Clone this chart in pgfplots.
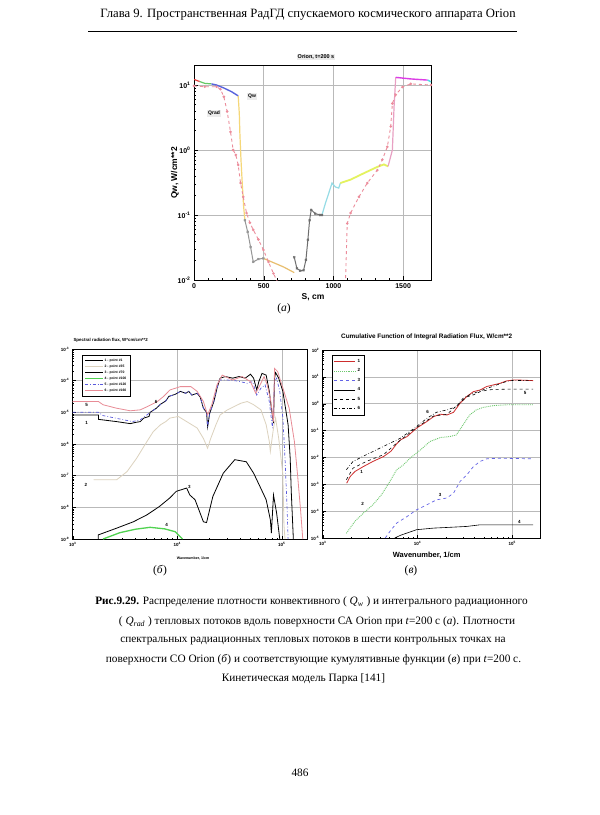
\documentclass[border=0pt]{standalone}
\usepackage{fontspec}
\setmainfont{Liberation Serif}
\newfontfamily\cf{Liberation Sans}
\usepackage{pgfplots}
\pgfplotsset{compat=1.18}
\definecolor{gridc}{RGB}{185,185,185}
\definecolor{qred}{RGB}{230,60,60}
\definecolor{qgreen}{RGB}{100,200,100}
\definecolor{qblue}{RGB}{90,100,220}
\definecolor{qyellow}{RGB}{245,215,120}
\definecolor{qgray}{RGB}{150,150,150}
\definecolor{qorange}{RGB}{232,190,110}
\definecolor{qdgray}{RGB}{110,110,110}
\definecolor{qcyan}{RGB}{150,220,230}
\definecolor{qyg}{RGB}{228,242,95}
\definecolor{qpink}{RGB}{232,160,195}
\definecolor{qmag}{RGB}{220,60,230}
\definecolor{qcyan2}{RGB}{80,220,230}
\definecolor{qrad}{RGB}{236,140,155}
\definecolor{bbeige}{RGB}{220,210,190}
\definecolor{bgreen}{RGB}{80,210,80}
\definecolor{bblue}{RGB}{90,90,220}
\definecolor{bpink}{RGB}{232,140,150}
\definecolor{cred}{RGB}{205,45,45}
\definecolor{cgreen}{RGB}{110,200,110}
\definecolor{cblue}{RGB}{100,100,230}
\pgfplotsset{
  pagestyle/.style={
    scale only axis, anchor=south west,
    grid=major, major grid style={gridc, line width=0.6pt},
    axis line style={line width=0.8pt},
    tick style={black, line width=0.4pt},
    tick pos=left, tick align=inside,
    /pgf/number format/assume math mode=true,
    /pgf/number format/set thousands separator={},
    log number format basis/.code 2 args={##1\textsuperscript{\pgfmathprintnumber{##2}}},
    clip=true,
  }
}
\begin{document}
\begin{tikzpicture}
\path[use as bounding box, fill=white] (0,0) rectangle (600pt,-815pt);

% header
\node[font=\fontsize{12.7}{14}\selectfont] at (308pt,-15pt) {Глава 9. Пространственная РадГД спускаемого космического аппарата Orion};
\draw[line width=0.6pt] (88pt,-31pt) -- (517pt,-31pt);

% ---------- (a) ----------
\begin{axis}[pagestyle,
  at={(194pt,-280pt)}, width=237pt, height=215pt,
  xmin=0, xmax=1700, ymode=log, ymin=0.01, ymax=20.3,
  xtick={0,500,1000,1500}, minor x tick num=4,
  major tick length=4pt, minor tick length=2pt,
  tick label style={font=\cf\bfseries\fontsize{7}{7}\selectfont},
]
\addplot[qred, line width=1.2pt] coordinates {(0,12.2)(41,11.3)};
\addplot[qgreen, line width=1.2pt] coordinates {(41,11.3)(77,10.6)(125,10.4)};
\addplot[qblue, line width=1.4pt] coordinates {(125,10.4)(161,10.0)(209,9.1)(269,7.9)(317,6.8)};
\addplot[qyellow, line width=1.2pt] coordinates {(317,6.8)(325,3.6)(329,1.8)(337,0.71)(346,0.31)(356,0.135)(365,0.083)};
\addplot[qgray, line width=1pt, mark=x, mark size=1.3pt] coordinates {(365,0.083)(385,0.055)(406,0.032)(425,0.019)(462,0.021)(498,0.0215)};
\addplot[qorange, line width=1.2pt] coordinates {(498,0.0215)(570,0.0185)(642,0.0159)(719,0.0130)};
\addplot[qdgray, line width=1pt, mark=x, mark size=1.3pt] coordinates {(719,0.0224)(738,0.0151)(762,0.0139)(786,0.0141)(803,0.0205)(817,0.0417)(829,0.083)(841,0.12)(870,0.105)(906,0.10)(918,0.10)};
\addplot[qcyan, line width=1.2pt] coordinates {(918,0.10)(942,0.15)(966,0.215)(990,0.31)(1014,0.27)(1038,0.26)(1050,0.31)};
\addplot[qyg, line width=1.8pt] coordinates {(1050,0.31)(1123,0.35)(1219,0.44)(1315,0.55)(1363,0.60)(1392,0.56)};
\addplot[qpink, line width=1.2pt] coordinates {(1392,0.56)(1423,1.0)(1435,4.6)(1447,13.1)};
\addplot[qmag, line width=1.4pt] coordinates {(1447,13.1)(1555,12.4)(1676,11.9)};
\addplot[qcyan2, line width=1.4pt] coordinates {(1676,11.9)(1700,11.2)};
\addplot[qrad, dashed, line width=0.9pt, mark=o, mark size=0.8pt, mark options={solid}] coordinates {(0,9.7)(77,9.4)(161,9.4)(190,8.6)(214,6.6)(238,3.9)(262,1.9)(281,1.0)(300,0.84)(317,0.59)(334,0.31)(353,0.19)(377,0.107)(401,0.076)(425,0.059)(462,0.042)(498,0.029)(534,0.019)(570,0.0126)(594,0.0098)(620,0.0075)};
\addplot[qrad, dashed, line width=0.9pt, mark=o, mark size=0.8pt, mark options={solid}] coordinates {(1085,0.007)(1099,0.074)(1123,0.107)(1183,0.19)(1243,0.31)(1315,0.49)(1351,0.71)(1387,1.12)(1411,2.3)(1423,5.2)(1447,7.1)(1495,9.3)(1555,10.4)(1700,10.0)};
\end{axis}
\node[fill=gray!15, inner sep=1pt, font=\cf\bfseries\fontsize{5.5}{6}\selectfont] at (316pt,-57pt) {Orion, t=200 s};
\node[fill=gray!15, inner sep=1pt, font=\cf\bfseries\fontsize{5}{6}\selectfont] at (252pt,-96.5pt) {Qw};
\node[fill=gray!15, inner sep=1pt, font=\cf\bfseries\fontsize{5}{6}\selectfont] at (214pt,-113.5pt) {Qrad};
\node[rotate=90, font=\cf\bfseries\fontsize{8.5}{9}\selectfont] at (175pt,-173pt) {Qw, W/cm**2};
\node[font=\cf\bfseries\fontsize{8.5}{9}\selectfont] at (313pt,-297pt) {S, cm};
\node[font=\fontsize{11.5}{14}\selectfont] at (284pt,-309pt) {(\textit{а})};

% ---------- (b) ----------
\begin{axis}[pagestyle,
  at={(72.7pt,-539pt)}, width=234.3pt, height=190pt,
  xmode=log, ymode=log, xmin=1000, xmax=1.74e5, ymin=1e-9, ymax=1e-3,
  major tick length=3pt, minor tick length=1.5pt,
  tick label style={font=\cf\bfseries\fontsize{4.5}{5}\selectfont},
  legend style={at={(rel axis cs:0.038,0.968)}, anchor=north west, draw=black, line width=0.4pt,
    font=\cf\bfseries\fontsize{3.4}{3.6}\selectfont, row sep=0pt, inner sep=2.5pt,
    nodes={inner sep=1pt}, legend cell align=left},
  legend image code/.code={\draw[#1] (0pt,0pt) -- (18pt,0pt);},
]
\addplot[black, line width=0.8pt] coordinates {(1000,8.3e-6)(1762,8.3e-6)(1763,6.0e-6)(2630,5.1e-6)(3548,4.4e-6)(3981,4.8e-6)(4426,5.1e-6)(4786,6.6e-6)(5370,7.4e-6)(5495,1.0e-5)(6310,1.35e-5)(6918,1.8e-5)(7762,2.3e-5)(8318,3.2e-5)(9550,3.7e-5)(10720,4.6e-5)(12020,4.0e-5)(12880,4.6e-5)(13800,3.5e-5)(15490,4.0e-5)(16600,3.0e-5)(17780,1.35e-5)(19050,1.0e-5)(19500,3.5e-6)(20420,9.3e-6)(22390,2.2e-5)(23990,5.8e-5)(25700,1.2e-4)(28840,1.35e-4)(33880,1.2e-4)(38900,1.35e-4)(44670,1.2e-4)(50120,1.6e-4)(53700,1.2e-4)(57540,5.1e-5)(60260,9.3e-5)(64570,1.7e-4)(70790,1.5e-4)(75860,4.6e-5)(79430,1.35e-5)(83180,4.6e-6)(85110,1.2e-4)(87100,1.8e-4)(93330,1.2e-4)(102300,4.6e-5)(109600,1.07e-5)(114800,4.0e-6)(120200,3.5e-7)(123000,3.2e-8)(128800,1e-9)};
\addlegendentry{1 - point \#1}
\addplot[bbeige, line width=0.8pt] coordinates {(1585,7.4e-8)(2630,7.4e-8)(3311,1.35e-7)(4074,3.5e-7)(5129,1.2e-6)(5888,2.45e-6)(6918,4.07e-6)(7762,5.1e-6)(8511,6.6e-6)(10230,7.4e-6)(12300,5.1e-6)(15490,3.2e-6)(17780,1.5e-6)(19500,7.4e-7)(20890,1.5e-6)(23440,4.07e-6)(25700,8.3e-6)(30200,1.2e-5)(34670,1.5e-5)(40740,1.95e-5)(46770,2.2e-5)(53700,1.74e-5)(63100,1.2e-5)(70790,4.07e-6)(75860,1.2e-6)(77620,5.8e-7)(83180,3.2e-6)(87100,6.6e-6)(93330,1.5e-6)(102300,1.07e-7)(104700,2.8e-9)(107200,1e-9)};
\addlegendentry{2 - point \#35}
\addplot[black, line width=0.8pt] coordinates {(1758,1e-9)(1758,1.35e-9)(2630,2.2e-9)(3802,3.5e-9)(5129,5.8e-9)(6761,1.07e-8)(8511,2.0e-8)(9772,3.2e-8)(12300,4.07e-8)(13180,2.45e-8)(14790,1.74e-8)(17780,3.5e-9)(19050,3.3e-9)(21880,2.2e-8)(27540,1.2e-7)(35480,3.2e-7)(45710,2.75e-7)(53700,1.2e-7)(61660,4.6e-8)(70790,1.74e-8)(77620,4.07e-9)(79430,1.55e-9)(83180,2.45e-8)(89130,6.6e-9)(95500,1e-9)};
\addlegendentry{3 - point \#70}
\addplot[bgreen, line width=1.3pt] coordinates {(1950,1e-9)(2818,1.58e-9)(3981,2.04e-9)(5495,2.34e-9)(7586,2.09e-9)(9550,1.7e-9)(11220,1e-9)};
\addlegendentry{4 - point \#100}
\addplot[bblue, line width=0.7pt, dash dot] coordinates {(1000,1e-5)(1762,1e-5)(1950,7.9e-6)(3090,5.8e-6)(3715,5.1e-6)(4426,5.8e-6)(5129,8.3e-6)(5495,1e-5)(6310,1.35e-5)(6918,1.8e-5)(7762,2.3e-5)(8318,3.2e-5)(9550,3.7e-5)(10720,4.6e-5)(12020,4.0e-5)(12880,4.6e-5)(13800,3.5e-5)(15490,4.0e-5)(16600,3.0e-5)(17780,1.35e-5)(19050,1.0e-5)(19500,3.5e-6)(20420,9.3e-6)(22390,2.2e-5)(25120,1.05e-4)(30200,1.05e-4)(37150,9.8e-5)(46770,8.3e-5)(52480,9.3e-5)(57540,3.5e-5)(63100,5.8e-5)(69180,7.4e-5)(75860,2.2e-5)(81280,3.2e-6)(85110,9.3e-5)(89130,1.2e-4)(95500,4.6e-5)(102300,6.6e-6)(107200,3.5e-7)(112200,1e-8)(114800,1e-9)};
\addlegendentry{5 - point \#120}
\addplot[bpink, line width=0.8pt] coordinates {(1000,2.2e-5)(1762,2.2e-5)(1950,1.74e-5)(2630,1.35e-5)(3548,1.12e-5)(4426,1.2e-5)(5129,1.5e-5)(6457,2.2e-5)(7413,3.2e-5)(8511,5.1e-5)(10720,6.5e-5)(13490,6.5e-5)(15490,4.6e-5)(17780,2.2e-5)(19500,8.3e-6)(21380,1.74e-5)(23990,7.4e-5)(26920,1.5e-4)(33880,1.05e-4)(41690,1.35e-4)(50120,9.3e-5)(56230,4.0e-5)(63100,8.3e-5)(67610,1.35e-4)(72440,7.4e-5)(77620,2.8e-5)(83180,5.1e-6)(85110,2.45e-4)(91200,1.95e-4)(97720,9.3e-5)(104700,4.6e-5)(117500,1.35e-5)(131800,1.2e-6)(141300,1.07e-7)(151400,7.4e-9)(158500,1e-9)};
\addlegendentry{6 - point \#160}
\end{axis}
\begin{scope}[font=\cf\bfseries\fontsize{4.5}{5}\selectfont]
\node at (86.7pt,-405pt) {5};
\node at (86.7pt,-423.3pt) {1};
\node at (156pt,-401.7pt) {6};
\node at (86pt,-485pt) {2};
\node at (189.3pt,-486.7pt) {3};
\node at (166.7pt,-525pt) {4};
\end{scope}
\node[anchor=west, font=\cf\bfseries\fontsize{4.4}{5}\selectfont] at (70pt,-340pt) {Spectral radiation flux, W*cm/cm**2};
\node[font=\cf\bfseries\fontsize{3.6}{4}\selectfont] at (193pt,-558pt) {Wavenumber, 1/cm};
\node[font=\fontsize{11.5}{14}\selectfont] at (160pt,-571pt) {(\textit{б})};

% ---------- (c) ----------
\begin{axis}[pagestyle,
  at={(322.7pt,-538pt)}, width=217.3pt, height=188pt,
  xmode=log, ymode=log, xmin=1000, xmax=1.96e5, ymin=1e-5, ymax=100,
  major tick length=3pt, minor tick length=1.5pt,
  tick label style={font=\cf\bfseries\fontsize{4.5}{5}\selectfont},
  legend style={at={(rel axis cs:0.041,0.973)}, anchor=north west, draw=black, line width=0.4pt,
    font=\cf\bfseries\fontsize{4.5}{5}\selectfont, row sep=0.8pt, inner sep=2pt},
  legend image code/.code={\draw[#1] (0pt,0pt) -- (21pt,0pt);},
]
\addplot[cred, line width=0.8pt] coordinates {(1791,1.1e-3)(1950,1.95e-3)(2188,3.0e-3)(2692,4.6e-3)(3388,7.1e-3)(4365,1.07e-2)(5248,1.7e-2)(6026,3.2e-2)(6607,4.5e-2)(7762,6.0e-2)(9772,0.123)(12590,0.219)(14790,0.331)(17380,0.407)(20420,0.380)(23990,0.479)(28180,1.05)(33110,1.86)(38900,2.82)(45710,3.24)(53700,4.37)(63100,5.01)(74130,5.75)(87100,7.08)(102300,7.59)(120200,7.59)(166000,7.24)};
\addlegendentry{1}
\addplot[cgreen, line width=0.9pt, densely dotted] coordinates {(1778,1.5e-5)(2188,4.2e-5)(2692,8.5e-5)(3388,1.74e-4)(4169,4.07e-4)(5129,1.29e-3)(6026,3.47e-3)(7079,5.25e-3)(8318,9.3e-3)(10720,1.9e-2)(13490,3.9e-2)(17380,5.5e-2)(21880,6.0e-2)(25700,6.9e-2)(30200,0.162)(35480,0.38)(41690,0.589)(48980,0.724)(63100,0.851)(87100,0.912)(166000,0.912)};
\addlegendentry{2}
\addplot[cblue, line width=0.7pt, dashed] coordinates {(4571,1e-5)(5129,1.78e-5)(6026,3.6e-5)(7762,6.3e-5)(9772,1.12e-4)(12590,1.74e-4)(15850,2.63e-4)(20420,3.1e-4)(23990,4.7e-4)(28180,1.29e-3)(33110,2.24e-3)(38900,4.57e-3)(45710,7.1e-3)(53700,8.9e-3)(74130,9.3e-3)(166000,8.9e-3)};
\addlegendentry{3}
\addplot[black, line width=0.6pt] coordinates {(5750,1e-5)(6607,1.26e-5)(9772,2.04e-5)(14790,2.34e-5)(21880,2.5e-5)(33110,2.7e-5)(45710,3.1e-5)(74130,3.1e-5)(166000,3.1e-5)};
\addlegendentry{4}
\addplot[black, line width=0.6pt, dashed] coordinates {(1778,1.48e-3)(2089,4.0e-3)(2884,7.1e-3)(4365,1.26e-2)(6026,3.4e-2)(9772,0.13)(14790,0.35)(20420,0.40)(28180,1.1)(33110,1.8)(38900,2.14)(45710,2.8)(53700,3.2)(63100,3.4)(100000,3.5)(166000,3.5)};
\addlegendentry{5}
\addplot[black, line width=0.6pt, dash dot] coordinates {(1778,3.5e-3)(2089,7.1e-3)(2884,1.26e-2)(4365,2.57e-2)(6607,5.2e-2)(9772,0.141)(12590,0.288)(15850,0.479)(20420,0.589)(25700,0.776)(30200,1.58)(35480,2.14)(45710,3.0)(63100,4.5)(87100,6.8)(102300,7.4)(166000,7.2)};
\addlegendentry{6}
\end{axis}
\begin{scope}[font=\cf\bfseries\fontsize{4.5}{5}\selectfont]
\node at (361.7pt,-471.7pt) {1};
\node at (362.7pt,-504.3pt) {2};
\node at (440pt,-495pt) {3};
\node at (519.3pt,-522.3pt) {4};
\node at (525pt,-393.3pt) {5};
\node at (427.7pt,-412.3pt) {6};
\end{scope}
\node[font=\cf\bfseries\fontsize{6.4}{7}\selectfont] at (426.7pt,-336.7pt) {Cumulative Function of Integral Radiation Flux, W/cm**2};
\node[font=\cf\bfseries\fontsize{7.5}{8}\selectfont] at (426.7pt,-555pt) {Wavenumber, 1/cm};
\node[font=\fontsize{11.5}{14}\selectfont] at (411pt,-571pt) {(\textit{в})};

% caption
\begin{scope}[font=\fontsize{11.3}{14}\selectfont]
\node at (311.5pt,-602pt) {\textbf{Рис.9.29.} Распределение плотности конвективного ( \textit{Q}\textsubscript{\textit{w}} ) и интегрального радиационного};
\node at (317pt,-622pt) {( \textit{Q}\textsubscript{\textit{rad}} ) тепловых потоков вдоль поверхности СА Orion при \textit{t}=200 с (\textit{а}). Плотности};
\node at (313pt,-641pt) {спектральных радиационных тепловых потоков в шести контрольных точках на};
\node at (313.5pt,-660pt) {поверхности СО Orion (\textit{б}) и соответствующие кумулятивные функции (\textit{в}) при \textit{t}=200 с.};
\node at (303.5pt,-679pt) {Кинетическая модель Парка [141]};
\node at (300pt,-773pt) {486};
\end{scope}
\end{tikzpicture}
\end{document}
